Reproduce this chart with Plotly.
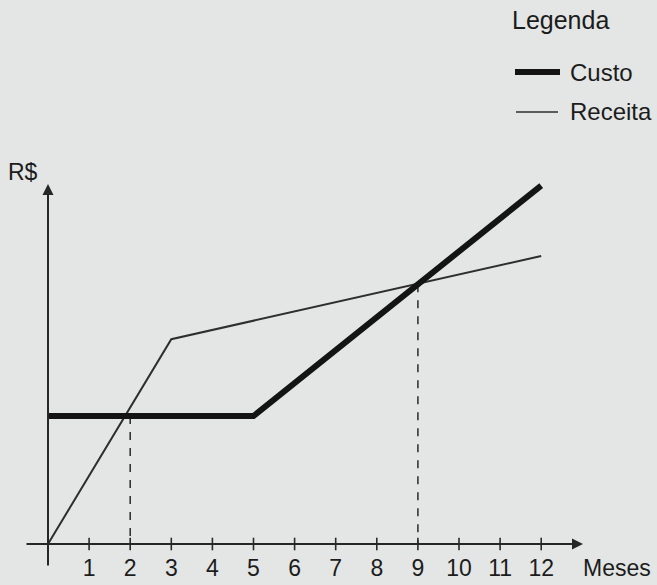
import numpy as np
import plotly.graph_objects as go

# ---- data ----
tick_months = [1, 2, 3, 4, 5, 6, 7, 8, 9, 10, 11, 12]
tick_labels = ["1", "2", "3", "4", "5", "6", "7", "8", "9", "10", "11", "12"]

custo_x = [0, 5, 12]
custo_y = [40, 40, 112]

receita_x = [0, 3, 12]
receita_y = [0, 64, 90]

break_even_months = [2, 9]

# ---- layout geometry (pixels) ----
W, H = 657, 585
ORIGIN_PX = 48
PX_PER_MONTH = 41.1
AXIS_PY = 544
PX_PER_UNIT = 3.2

x_range = [-ORIGIN_PX / PX_PER_MONTH, (W - ORIGIN_PX) / PX_PER_MONTH]
y_range = [(AXIS_PY - H) / PX_PER_UNIT, AXIS_PY / PX_PER_UNIT]

def px_x(px):
    return (px - ORIGIN_PX) / PX_PER_MONTH

def px_y(py):
    return (AXIS_PY - py) / PX_PER_UNIT

def paper_x(px):
    return px / W

def paper_y(py):
    return 1 - py / H

BG = "#e3e6e4"
INK = "#1c1c1c"
FONT = "Liberation Sans, Arial, sans-serif"

fig = go.Figure()

# dashed break-even guides
be_vals = np.interp(break_even_months, custo_x, custo_y)
for m, v in zip(break_even_months, be_vals):
    fig.add_trace(go.Scatter(
        x=[m, m], y=[v, 0], mode="lines",
        line=dict(color="#2a2a2a", width=1.5, dash="8px,8px"),
        showlegend=False, hoverinfo="skip"))

# tick marks on x axis
fig.add_trace(go.Scatter(
    x=tick_months, y=[0] * len(tick_months), mode="markers",
    marker=dict(symbol="line-ns-open", size=9, color="#2a2a2a",
                line=dict(color="#2a2a2a", width=1.6)),
    showlegend=False, hoverinfo="skip", cliponaxis=False))

# Receita (thin)
fig.add_trace(go.Scatter(
    x=receita_x, y=receita_y, mode="lines", name="Receita",
    line=dict(color="#2e2e2e", width=2), showlegend=False))

# Custo (thick)
fig.add_trace(go.Scatter(
    x=custo_x, y=custo_y, mode="lines", name="Custo",
    line=dict(color="#141414", width=6), showlegend=False))

annotations = []
# x axis arrow
annotations.append(dict(
    x=px_x(583), y=0, ax=px_x(25), ay=0, xref="x", yref="y",
    axref="x", ayref="y", showarrow=True, arrowhead=2, arrowsize=1.1,
    arrowwidth=2, arrowcolor="#262626", text=""))
# y axis arrow
annotations.append(dict(
    x=0, y=px_y(184), ax=0, ay=px_y(567), xref="x", yref="y",
    axref="x", ayref="y", showarrow=True, arrowhead=2, arrowsize=1.1,
    arrowwidth=2, arrowcolor="#262626", text=""))
# axis titles
annotations.append(dict(
    x=px_x(581), y=px_y(568), xref="x", yref="y", text="Meses",
    showarrow=False, xanchor="left", yanchor="middle",
    font=dict(family=FONT, size=23, color=INK)))
annotations.append(dict(
    x=px_x(6), y=px_y(172), xref="x", yref="y", text="R$",
    showarrow=False, xanchor="left", yanchor="middle",
    font=dict(family=FONT, size=23, color=INK)))

# manual legend
annotations.append(dict(
    x=paper_x(510), y=paper_y(20), xref="paper", yref="paper",
    text="Legenda", showarrow=False, xanchor="left", yanchor="middle",
    font=dict(family=FONT, size=25, color=INK)))
annotations.append(dict(
    x=paper_x(568), y=paper_y(72), xref="paper", yref="paper",
    text="Custo", showarrow=False, xanchor="left", yanchor="middle",
    font=dict(family=FONT, size=24, color=INK)))
annotations.append(dict(
    x=paper_x(568), y=paper_y(112), xref="paper", yref="paper",
    text="Receita", showarrow=False, xanchor="left", yanchor="middle",
    font=dict(family=FONT, size=24, color=INK)))

shapes = [
    dict(type="line", xref="paper", yref="paper",
         x0=paper_x(515), x1=paper_x(560), y0=paper_y(72), y1=paper_y(72),
         line=dict(color="#141414", width=6)),
    dict(type="line", xref="paper", yref="paper",
         x0=paper_x(516), x1=paper_x(558), y0=paper_y(112), y1=paper_y(112),
         line=dict(color="#2e2e2e", width=1.5)),
]

fig.update_layout(
    width=W, height=H,
    margin=dict(l=0, r=0, t=0, b=0),
    paper_bgcolor=BG, plot_bgcolor=BG,
    annotations=annotations, shapes=shapes,
    showlegend=False,
    xaxis=dict(range=x_range, showgrid=False, zeroline=False, showline=False,
               tickmode="array", tickvals=tick_months, ticktext=tick_labels,
               ticks="", anchor="free", position=paper_y(AXIS_PY),
               ticklabelstandoff=8,
               tickfont=dict(family=FONT, size=23, color=INK)),
    yaxis=dict(range=y_range, showgrid=False, zeroline=False, showline=False,
               showticklabels=False, ticks=""),
)

fig.write_html("out.html", config={"displayModeBar": False})

# remove the default page margin so the figure fills the window
with open("out.html", "r", encoding="utf-8") as f:
    html = f.read()
html = html.replace("<head>", "<head><style>html,body{margin:0;padding:0;overflow:hidden;background:%s}</style>" % BG, 1)
with open("out.html", "w", encoding="utf-8") as f:
    f.write(html)
